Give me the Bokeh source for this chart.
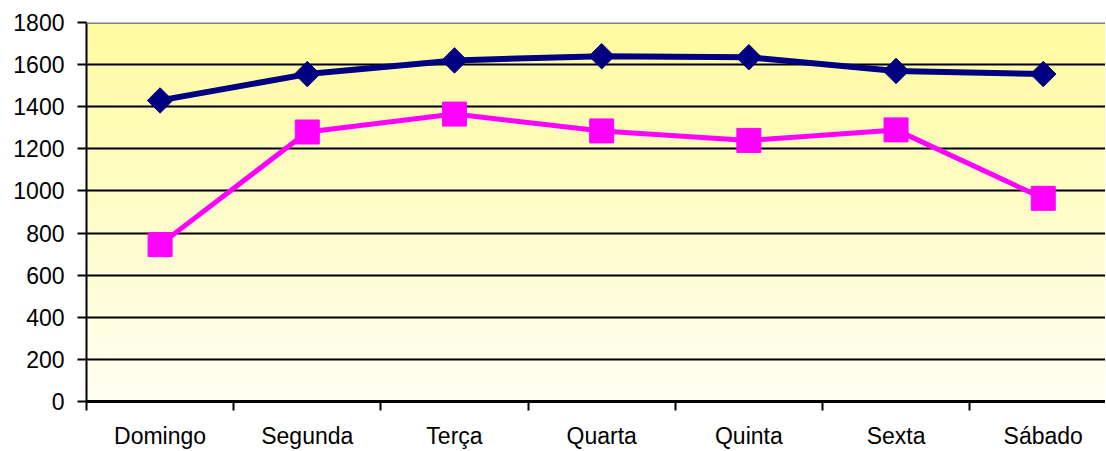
import numpy as np
from bokeh.plotting import figure
from bokeh.models import Range1d, FixedTicker, Span
from bokeh.embed import file_html
from bokeh.resources import INLINE

days = ["Domingo", "Segunda", "Terça", "Quarta", "Quinta", "Sexta", "Sábado"]
serie_azul = [1430, 1555, 1620, 1640, 1635, 1570, 1555]
serie_rosa = [745, 1280, 1365, 1285, 1240, 1290, 965]
y_ticks = [0, 200, 400, 600, 800, 1000, 1200, 1400, 1600, 1800]

xc = [i + 0.5 for i in range(len(days))]

p = figure(width=1105, height=451, output_backend="svg", toolbar_location=None,
           x_range=Range1d(0, 6.923), y_range=Range1d(0, 1800),
           min_border_left=86, min_border_top=22, min_border_right=0, min_border_bottom=0)
p.outline_line_color = None
p.background_fill_color = "white"
p.border_fill_color = "white"

# gradient background for plot area
n = 200
top = np.array([255, 251, 160], dtype=float)
bot = np.array([255, 255, 243], dtype=float)
t = np.linspace(0, 1, n)[:, None]
cols = bot * (1 - t) + top * t
img = np.zeros((n, 1), dtype=np.uint32)
view = img.view(dtype=np.uint8).reshape((n, 1, 4))
view[:, 0, 0] = cols[:, 0].astype(np.uint8)
view[:, 0, 1] = cols[:, 1].astype(np.uint8)
view[:, 0, 2] = cols[:, 2].astype(np.uint8)
view[:, 0, 3] = 255
p.image_rgba(image=[img], x=0, y=0, dw=7, dh=1800, level="image")

p.xgrid.visible = False
p.ygrid.grid_line_color = "black"
p.ygrid.grid_line_width = 2
p.ygrid.level = "underlay"
p.ygrid.ticker = FixedTicker(ticks=y_ticks)

p.add_layout(Span(location=1800, dimension="width", line_color="#808080", line_width=3))

# y axis
p.yaxis.ticker = FixedTicker(ticks=y_ticks)
p.yaxis.axis_line_color = "black"
p.yaxis.axis_line_width = 2
p.yaxis.major_tick_line_color = "black"
p.yaxis.major_tick_line_width = 2
p.yaxis.major_tick_out = 9
p.yaxis.major_tick_in = 0
p.yaxis.minor_tick_line_color = None
p.yaxis.major_label_standoff = 13
p.yaxis.major_label_text_font = "Liberation Sans"
p.yaxis.major_label_text_font_size = "23px"
p.yaxis.major_label_text_color = "black"

# x axis
p.xaxis.ticker = FixedTicker(ticks=xc, minor_ticks=list(range(0, 8)))
p.xaxis.major_label_overrides = {x: d for x, d in zip(xc, days)}
p.xaxis.axis_line_color = "black"
p.xaxis.axis_line_width = 3
p.xaxis.major_tick_line_color = None
p.xaxis.major_tick_out = 0
p.xaxis.major_tick_in = 0
p.xaxis.minor_tick_line_color = "black"
p.xaxis.minor_tick_line_width = 2
p.xaxis.minor_tick_out = 9
p.xaxis.minor_tick_in = 0
p.xaxis.major_label_standoff = 12
p.xaxis.major_label_text_font = "Liberation Sans"
p.xaxis.major_label_text_font_size = "23px"
p.xaxis.major_label_text_color = "black"

p.line(xc, serie_rosa, line_color="#FF00FF", line_width=5)
p.scatter(xc, serie_rosa, marker="square", size=24, fill_color="#FF00FF", line_color="#FF00FF")
p.line(xc, serie_azul, line_color="#000080", line_width=6)
p.scatter(xc, serie_azul, marker="square", size=18, angle=np.pi / 4,
          fill_color="#000080", line_color="#000080")

open("out.html", "w").write(file_html(p, INLINE))
